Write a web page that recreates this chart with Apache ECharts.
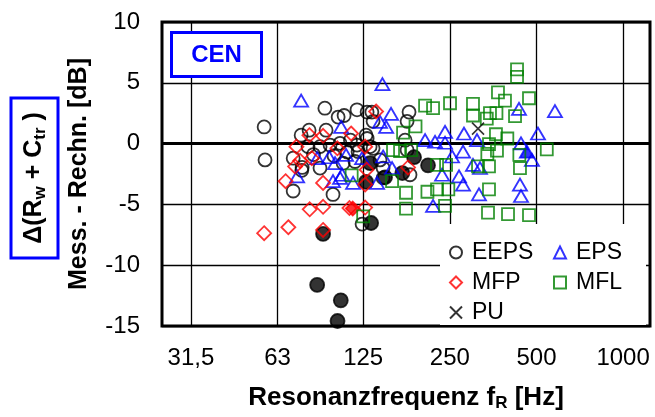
<!DOCTYPE html>
<html>
<head>
<meta charset="utf-8">
<script src="https://cdn.jsdelivr.net/npm/echarts@6/dist/echarts.min.js"></script>
<style>
  html, body { margin: 0; padding: 0; background: #fff; }
  #chart { width: 655px; height: 417px; }
</style>
</head>
<body>
<div id="chart"></div>
<script>
// Octave band gridlines on the frequency axis and their labels
const freqTicks = [31.5, 63, 125, 250, 500, 1000];
const freqTickLabels = ['31,5', '63', '125', '250', '500', '1000'];

// [resonance frequency in Hz, measured minus calculated in dB]
const eeps = [
  [56.6, 1.37], [57.0, -1.34], [92.0, 2.91], [76.1, 0.69], [102.3, 2.18], [107.3, 2.31],
  [119, 2.78], [129, 2.59], [134, 2.59], [135.3, 1.83], [180.4, 2.59], [177.6, 1.83],
  [92.9, 1.10], [80.4, -0.25], [88.5, -0.25], [95.9, -0.12], [103.9, 0.02], [112.9, 0.28],
  [119, -0.12], [129, 0.42], [132.1, -0.25], [71.4, -1.2], [76.7, -1.96], [88.5, -2.01],
  [106.5, -1.61], [117.1, -1.47], [143, -1.34], [146.6, -2.01], [181.8, -2.56], [71.4, -3.9],
  [98.2, -4.18], [123.9, -6.62], [177.6, -0.53], [174.8, 0.28], [127.9, 0.69], [120, -0.66],
  [135.3, -0.39], [146.6, -2.82], [81.1, 1.10], [76.5, -2.2], [84, -0.9], [99, -1.0], [110, -0.7]
];
const eepsFilled = [
  [132.1, -1.61], [148.9, -2.77], [127.9, -3.15], [171, -2.42], [187.8, -1.12], [210, -1.79],
  [133.2, -6.53], [90.7, -7.43], [86.5, -11.62], [104.5, -12.89], [101.8, -14.59]
];
const eps = [
  [76.1, 3.53], [145.8, 4.89], [156.2, 2.45], [143, 1.78], [150.2, 1.37], [104.8, 1.37],
  [86.5, -1.2], [95.2, -1.12], [99.8, -1.61], [109, -0.93], [73.7, -2.69], [98.2, -3.09],
  [103.9, -2.82], [115.3, -3.23], [139.7, -3.23], [146.6, -1.06], [157.5, -2.01], [205.1, 0.28],
  [222.1, 0.15], [218.6, -5.12], [123.9, -1.2], [105.6, -2.56], [434.8, 2.86], [579.7, 2.67],
  [240.6, 0.97], [240.6, 0.07], [280, 0.83], [310.7, 0.28], [277.9, -0.66], [254.5, -1.06],
  [300.9, -1.75], [318.2, -2.01], [441.8, 0.02], [506.1, 0.83], [482.3, -1.34], [235, -2.56],
  [269.1, -2.69], [277.9, -3.37], [315.7, -4.18], [438.2, -3.37], [441.8, -4.31]
];
const epsFilled = [[463, -0.66]];
const mfp = [
  [138.6, 2.64], [81.3, 0.69], [90.7, 0.64], [113.5, 0.83], [73.3, -0.25], [101.7, -0.39],
  [127, -0.25], [82.9, -1.2], [75.5, -1.42], [72.5, -1.88], [67.2, -3.09], [90.7, -3.23],
  [128.5, -2.15], [179, -1.96], [81.5, -5.4], [90.7, -5.2], [127, -5.26], [68.7, -6.88],
  [56.6, -7.37], [127, -3.37], [90.7, -7.1], [112, -5.3]
];
const mfpFilled = [[115, -5.34]];
const mfl = [
  [205.1, 3.12], [218.6, 2.91], [172, 0.91], [190, 1.42], [158.7, -0.53], [167.9, -0.61],
  [183.5, -0.53], [114, -2.61], [157.5, -3.09], [176.1, -4.04], [209, -3.96], [176.1, -5.34],
  [125, -5.99], [428, 6.1], [428, 5.48], [367.5, 4.21], [388.6, 3.53], [471, 3.73],
  [300.9, 3.26], [300.9, 2.31], [336, 2.05], [344.7, 2.51], [363, 2.51], [421.2, 2.26],
  [250.4, 3.32], [361.6, 0.77], [396, 0.42], [342, -0.04], [364.5, -0.58], [337.5, -0.85],
  [543, -0.47], [436, -0.93], [438.2, -2.01], [313.3, -1.88], [342, -1.88], [242.6, -1.75],
  [225.7, -1.75], [247, -3.77], [225.7, -3.77], [342, -3.77], [240.6, -5.12], [339.3, -5.67],
  [398.2, -5.8], [471, -5.88]
];
const pu = [[313.3, 1.23]];

const FONT = '"Liberation Sans", Arial, Helvetica, sans-serif';
const BLACK = '#000000', BLUE = '#0000ff', RED = '#ff0000', GREEN = '#008000';

function filled(points, color, size) {
  return points.map(p => {
    const item = { value: p, itemStyle: { color: color } };
    if (size) item.symbolSize = size;
    return item;
  });
}

function hollow(color) {
  return { color: 'transparent', borderColor: color, borderWidth: 1.8 };
}

const legendBase = {
  orient: 'vertical', top: 241,
  itemWidth: 12, itemHeight: 12, itemGap: 7, padding: 0, selectedMode: false,
  textStyle: { fontSize: 23, color: BLACK, fontFamily: FONT, padding: [0, 0, 0, 5] }
};

const chart = echarts.init(document.getElementById('chart'), null, { renderer: 'canvas' });

const gridLines = freqTicks.map((f, i) => [
  { coord: [f, -15], label: { formatter: freqTickLabels[i] } },
  { coord: [f, 10] }
]);

chart.setOption({
  animation: false,
  textStyle: { fontFamily: FONT },
  grid: {
    left: 162, top: 22, right: 5, bottom: 87,
    show: true, borderColor: BLACK, borderWidth: 3, backgroundColor: 'transparent'
  },
  xAxis: {
    type: 'log', logBase: 2, min: 25, max: 1240,
    axisLine: { show: false }, axisTick: { show: false },
    axisLabel: { show: false }, splitLine: { show: false },
    name: 'Resonanzfrequenz f{s|R} [Hz]',
    nameLocation: 'middle', nameGap: 58,
    nameTextStyle: {
      fontSize: 26, fontWeight: 'bold', color: BLACK, fontFamily: FONT,
      rich: {
        s: { fontSize: 17, fontWeight: 'bold', color: BLACK, fontFamily: FONT, padding: [11, 0, 0, 0], verticalAlign: 'top' }
      }
    }
  },
  yAxis: {
    type: 'value', min: -15, max: 10, interval: 5,
    axisLine: { show: false }, axisTick: { show: false },
    axisLabel: { fontSize: 24, color: BLACK, margin: 22, fontFamily: FONT },
    splitLine: { lineStyle: { color: BLACK, width: 1.3 } },
    name: 'Mess. - Rechn. [dB]',
    nameLocation: 'middle', nameGap: 70,
    nameTextStyle: { fontSize: 25, fontWeight: 'bold', color: BLACK, fontFamily: FONT }
  },
  legend: [
    Object.assign({ data: ['EEPS', 'MFP', 'PU'], left: 449 }, legendBase),
    Object.assign({ data: ['EPS', 'MFL'], left: 553 }, legendBase)
  ],
  graphic: [
    // white panel behind the legend
    { type: 'rect', z: 3, silent: true, shape: { x: 440, y: 224, width: 206, height: 101 }, style: { fill: '#fff' } },
    // CEN tag
    { type: 'rect', z: 10, silent: true, shape: { x: 171.5, y: 32.5, width: 90, height: 44 }, style: { fill: '#fff', stroke: BLUE, lineWidth: 3 } },
    { type: 'text', z: 11, silent: true, x: 216.5, y: 55,
      style: { text: 'CEN', fill: BLUE, fontSize: 24, fontWeight: 'bold', fontFamily: FONT, align: 'center', verticalAlign: 'middle' } },
    // quantity label in a blue frame, rotated along the y axis
    {
      type: 'group', x: 34.5, y: 178, rotation: Math.PI / 2, z: 10, silent: true,
      children: [
        { type: 'rect', shape: { x: -80, y: -23.5, width: 160, height: 47 }, style: { fill: '#fff', stroke: BLUE, lineWidth: 3 } },
        {
          type: 'text', x: 0, y: 0,
          style: {
            text: '{n|Δ(R}{s|w}{n| + C}{s|tr}{n| )}',
            align: 'center', verticalAlign: 'middle',
            rich: {
              n: { fontSize: 25, fontWeight: 'bold', fill: BLACK, fontFamily: FONT, lineHeight: 25, verticalAlign: 'top' },
              s: { fontSize: 17, fontWeight: 'bold', fill: BLACK, fontFamily: FONT, lineHeight: 17, padding: [10, 0, 0, 0], verticalAlign: 'top' }
            }
          }
        }
      ]
    }
  ],
  series: [
    {
      name: 'EEPS', type: 'scatter', symbol: 'circle', symbolSize: 13,
      itemStyle: hollow(BLACK),
      data: eeps.concat(filled(eepsFilled, BLACK, 14)),
      markLine: {
        silent: true, symbol: 'none', z: 1, animation: false,
        lineStyle: { color: BLACK, width: 1.3, type: 'solid' },
        label: { show: true, position: 'start', distance: 20, fontSize: 24, color: BLACK, fontFamily: FONT },
        data: gridLines.concat([
          { yAxis: 0, lineStyle: { width: 3, color: BLACK }, label: { show: false } }
        ])
      }
    },
    {
      name: 'EPS', type: 'scatter', symbol: 'triangle', symbolSize: [14, 12],
      itemStyle: hollow(BLUE),
      data: eps.concat(filled(epsFilled, BLUE))
    },
    {
      name: 'MFP', type: 'scatter', symbol: 'diamond', symbolSize: [14, 14],
      itemStyle: hollow(RED),
      data: mfp.concat(filled(mfpFilled, RED))
    },
    {
      name: 'MFL', type: 'scatter', symbol: 'rect', symbolSize: [12, 12],
      itemStyle: hollow(GREEN),
      data: mfl
    },
    {
      name: 'PU', type: 'scatter', symbol: 'path://M0,0L10,10M10,0L0,10', symbolSize: [12, 12],
      itemStyle: { color: 'transparent', borderColor: BLACK, borderWidth: 1.6 },
      data: pu
    }
  ]
});
</script>
</body>
</html>
